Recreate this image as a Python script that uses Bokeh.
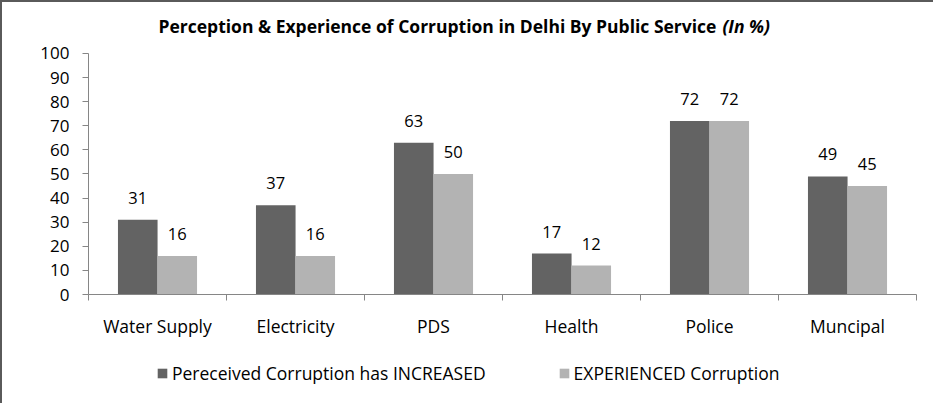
import numpy as np
from bokeh.plotting import figure
from bokeh.layouts import column
from bokeh.core.properties import value
from bokeh.models import (FixedTicker, Legend, LegendItem, Label, Range1d, ColumnDataSource)
from bokeh.embed import file_html
from bokeh.resources import INLINE

categories = ["Water Supply", "Electricity", "PDS", "Health", "Police", "Muncipal"]
perceived = [31, 37, 63, 17, 72, 49]
experienced = [16, 16, 50, 12, 72, 45]
series_names = ["Pereceived Corruption has INCREASED", "EXPERIENCED Corruption"]
y_ticks = list(range(0, 101, 10))

FONT = "Open Sans"
DARK = "#636363"
LIGHT = "#b3b3b3"
AXIS = "#868686"
BORDER = "2px solid #5a5a5a"

n = len(categories)
centers = np.arange(n) + 0.5
bw = 0.287
off = 0.143

# main chart: frame spans from just below the top border down to value 0 (title inside frame)
p = figure(width=933, height=350, x_range=Range1d(0, n), y_range=Range1d(0, 117.84),
           output_backend="svg", toolbar_location=None,
           min_border_left=86, min_border_right=19, min_border_top=8, min_border_bottom=58)
p.styles = {"border-top": BORDER, "border-left": BORDER}
p.xgrid.visible = False
p.ygrid.visible = False
p.outline_line_color = None

src = ColumnDataSource(dict(x1=centers - off, x2=centers + off,
                            y1=perceived, y2=experienced,
                            t1=[str(v) for v in perceived], t2=[str(v) for v in experienced]))
r1 = p.vbar(x="x1", top="y1", width=bw, source=src, fill_color=DARK, line_color=None)
r2 = p.vbar(x="x2", top="y2", width=bw, source=src, fill_color=LIGHT, line_color=None)
for xc, yc, tc in (("x1", "y1", "t1"), ("x2", "y2", "t2")):
    p.text(x=xc, y=yc, text=tc, source=src, text_align="center", text_baseline="alphabetic",
           y_offset=-22, text_font=value(FONT), text_font_size="16.5px", text_color="#000000")

# x axis: labels at centers, ticks at category boundaries
xa = p.xaxis[0]
xa.ticker = FixedTicker(ticks=list(centers), minor_ticks=list(range(n + 1)))
xa.major_label_overrides = {float(c): cat for c, cat in zip(centers, categories)}
xa.major_tick_line_color = None
xa.minor_tick_line_color = AXIS
xa.minor_tick_in = 0
xa.minor_tick_out = 6
xa.axis_line_color = AXIS
xa.major_label_standoff = 13
xa.major_label_text_font = FONT
xa.major_label_text_font_size = "17.5px"
xa.major_label_text_color = "#000000"

ya = p.yaxis[0]
ya.bounds = (0, 100)
ya.ticker = FixedTicker(ticks=y_ticks)
ya.minor_tick_line_color = None
ya.major_tick_line_color = AXIS
ya.major_tick_in = 0
ya.major_tick_out = 6
ya.axis_line_color = AXIS
ya.major_label_standoff = 13
ya.major_label_text_font = FONT
ya.major_label_text_font_size = "17px"
ya.major_label_text_color = "#000000"

t1 = Label(x=4.572, y=111.3, x_offset=-3, text="Perception & Experience of Corruption in Delhi By Public Service",
           text_align="right", text_baseline="alphabetic", text_font=FONT, text_font_size="17.5px",
           text_font_style="bold", text_color="#000000")
t2 = Label(x=4.572, y=111.3, x_offset=3, text="(In %)",
           text_align="left", text_baseline="alphabetic", text_font=FONT, text_font_size="17.5px",
           text_font_style="bold italic", text_color="#000000")
p.add_layout(t1)
p.add_layout(t2)

# legend strip below the chart
p2 = figure(width=933, height=53, x_range=Range1d(0, 1), y_range=Range1d(0, 1),
            output_backend="svg", toolbar_location=None, x_axis_type=None, y_axis_type=None,
            min_border=0)
p2.styles = {"border-left": BORDER}
p2.xgrid.visible = False
p2.ygrid.visible = False
p2.outline_line_color = None
# zero-height swatch carriers (nothing visible is drawn by them)
k1 = p2.vbar(x=[0.5], top=[0], bottom=[0], width=0, fill_color=DARK, line_color=None)
k2 = p2.vbar(x=[0.5], top=[0], bottom=[0], width=0, fill_color=LIGHT, line_color=None)
legend = Legend(items=[LegendItem(label=series_names[0], renderers=[k1]),
                       LegendItem(label=series_names[1], renderers=[k2])],
                orientation="horizontal", location=(68, 18),
                label_text_font=FONT, label_text_font_size="17.5px", label_text_color="#000000",
                glyph_width=12, glyph_height=12, label_standoff=4, spacing=72,
                padding=0, margin=0, border_line_color=None, background_fill_alpha=0)
p2.add_layout(legend)

layout = column(p, p2, spacing=0)
open("out.html", "w").write(file_html(layout, INLINE))
